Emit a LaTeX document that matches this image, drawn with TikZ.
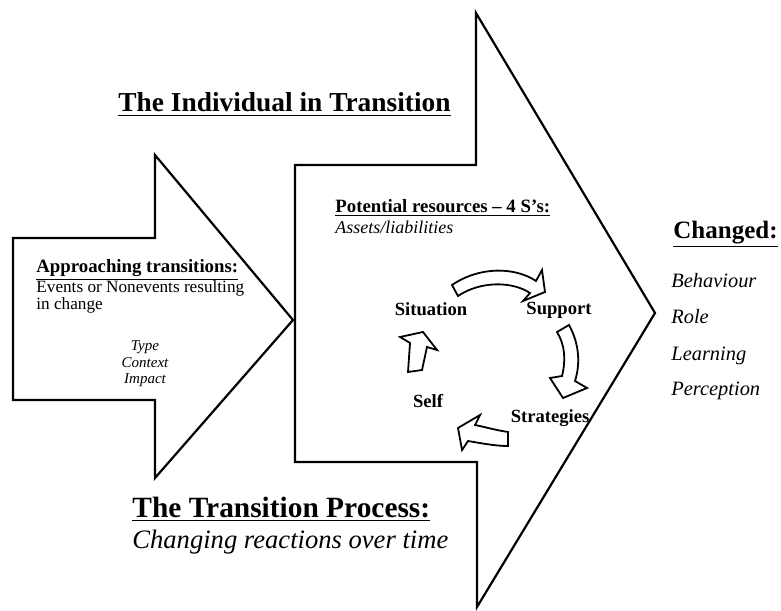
\documentclass[tikz,border=0pt]{standalone}
\usepackage{fontspec}
\setmainfont{Liberation Serif}
\begin{document}
\begin{tikzpicture}[x=0.5pt, y=-0.5pt, line join=miter,
  outline/.style={draw, line width=1.1pt},
  cycarrow/.style={draw, line width=0.9pt, fill=white},
  txt/.style={inner sep=0pt, anchor=base west},
  sname/.style={inner sep=0pt, anchor=base, font=\fontsize{9.3}{11}\selectfont\bfseries}]
\useasboundingbox (0,0) rectangle (781,610);
% the two big block arrows
\draw[outline](13,238)--(155,238)--(155,155)--(293,320)--(155,478)--(155,400)--(13,400)--cycle;
\draw[outline](295,165)--(476,165)--(476,13)--(655,313)--(477,607)--(477,462)--(295,462)--cycle;
% headings
\node[txt, font=\fontsize{13.7}{16}\selectfont\bfseries] (title) at (118,112) {\underline{The Individual in Transition}};
\node[txt, font=\fontsize{14.7}{17}\selectfont\bfseries] (process) at (132,517) {\underline{The Transition Process:}};
\node[txt, font=\fontsize{13.3}{16}\selectfont\itshape] (reactions) at (132,548) {Changing reactions over time};
% left arrow
\node[txt, font=\fontsize{9.4}{11}\selectfont\bfseries] (approach) at (36,272) {\underline{Approaching transitions:}};
\node[txt, font=\fontsize{8.6}{10}\selectfont] (events) at (36,292) {Events or Nonevents resulting};
\node[txt, font=\fontsize{8.6}{10}\selectfont] (change) at (36,309) {in change};
\node[inner sep=0pt, anchor=base, font=\fontsize{7.5}{9}\selectfont\itshape] (type) at (145,350) {Type};
\node[inner sep=0pt, anchor=base, font=\fontsize{7.5}{9}\selectfont\itshape] (context) at (145,367) {Context};
\node[inner sep=0pt, anchor=base, font=\fontsize{7.5}{9}\selectfont\itshape] (impact) at (145,383) {Impact};
% big arrow
\node[txt, font=\fontsize{9.4}{11}\selectfont\bfseries] (resources) at (335,212) {\underline{Potential resources -- 4 S's:}};
\node[txt, font=\fontsize{9}{11}\selectfont\itshape] (assets) at (335,233) {Assets/liabilities};
\node[sname] (situation) at (431,315) {Situation};
\node[sname] (support) at (559,314) {Support};
\node[sname] (strategies) at (550,422) {Strategies};
\node[sname] (self) at (428,407) {Self};
% cycle of block arrows
\draw[cycarrow](452,285) .. controls (480,266) and (515,267) .. (536,281)--(542,270)--(545,292)--(523,301)--(530,293) .. controls (512,281) and (480,281) .. (458,296)--cycle;
\draw[cycarrow](569,325) .. controls (580,345) and (580,365) .. (575,381)--(587,388)--(563,398)--(550,378)--(562,376) .. controls (566,360) and (565,345) .. (557,332)--cycle;
\draw[cycarrow](508,432) .. controls (495,430) and (485,427) .. (475,425)--(480,415)--(458,428)--(462,450)--(468,441) .. controls (480,443) and (495,446) .. (508,446)--cycle;
\draw[cycarrow](422,370)--(427,347)--(437,350)--(423,332)--(400,337)--(410,343)--(408,372)--cycle;
% outcome
\node[txt, font=\fontsize{12.5}{15}\selectfont\bfseries] (changed) at (673,238) {\underline{Changed:}};
\node[txt, font=\fontsize{10.2}{12}\selectfont\itshape] (behaviour) at (671,287) {Behaviour};
\node[txt, font=\fontsize{10.2}{12}\selectfont\itshape] (role) at (671,323) {Role};
\node[txt, font=\fontsize{10.2}{12}\selectfont\itshape] (learning) at (671,360) {Learning};
\node[txt, font=\fontsize{10.2}{12}\selectfont\itshape] (perception) at (671,395) {Perception};
\end{tikzpicture}
\end{document}
